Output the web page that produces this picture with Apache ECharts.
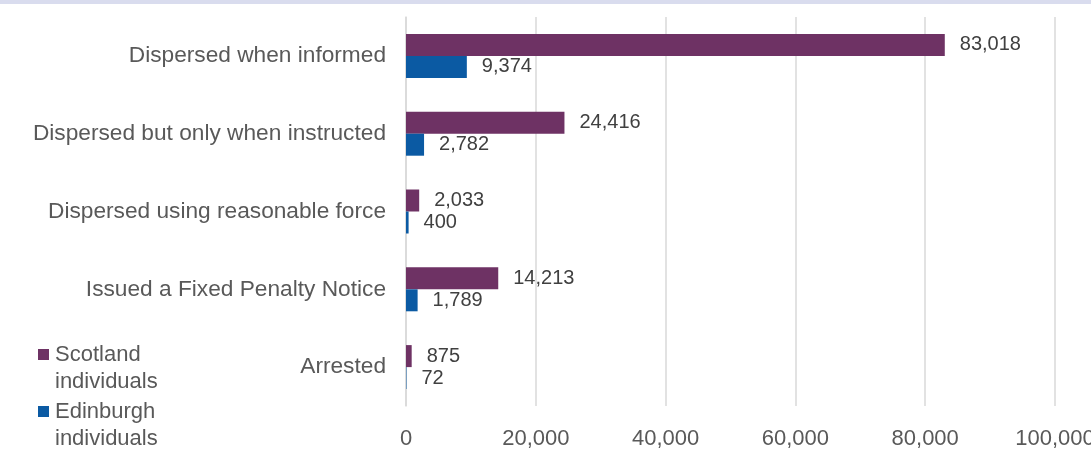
<!DOCTYPE html>
<html>
<head>
<meta charset="utf-8">
<script src="https://cdn.jsdelivr.net/npm/echarts@6/dist/echarts.min.js"></script>
<style>
  html, body { margin: 0; padding: 0; background: #ffffff; }
  #chart { width: 1091px; height: 450px; }
</style>
</head>
<body>
<div id="chart"></div>
<script>
// Outcomes of dispersal / enforcement actions
const categories = [
  'Dispersed when informed',
  'Dispersed but only when instructed',
  'Dispersed using reasonable force',
  'Issued a Fixed Penalty Notice',
  'Arrested'
];
const scotlandValues = [83018, 24416, 2033, 14213, 875];
const edinburghValues = [9374, 2782, 400, 1789, 72];
const seriesNames = ['Scotland individuals', 'Edinburgh individuals'];
const legendLabels = ['Scotland\nindividuals', 'Edinburgh\nindividuals'];

const FONT = '"Liberation Sans", Arial, sans-serif';
const fmt = v => v.toLocaleString('en-GB');

const chart = echarts.init(document.getElementById('chart'), null, { renderer: 'canvas' });

const labelStyle = {
  show: true,
  position: 'right',
  distance: 15,
  fontFamily: FONT,
  fontSize: 20,
  color: '#404040',
  formatter: p => fmt(p.value)
};

chart.setOption({
  backgroundColor: '#ffffff',
  animation: false,
  graphic: [{
    type: 'rect',
    left: 0,
    top: 0,
    shape: { width: 1091, height: 4 },
    style: { fill: '#d9dcee' },
    silent: true
  }],
  legend: {
    orient: 'vertical',
    left: 38,
    top: 314,
    height: 200,
    padding: 0,
    itemWidth: 11,
    itemHeight: 11,
    itemGap: -24,
    icon: 'rect',
    data: seriesNames,
    // a leading empty line keeps the first text line level with the colour key
    formatter: name => ' \n' + legendLabels[seriesNames.indexOf(name)],
    textStyle: {
      fontFamily: FONT,
      fontSize: 22,
      color: '#595959',
      lineHeight: 27,
      padding: [0, 0, 0, 1]
    }
  },
  grid: {
    left: 406,
    right: 36,
    top: 17,
    bottom: 44,
    containLabel: false,
    outerBoundsMode: 'none'
  },
  xAxis: {
    type: 'value',
    min: 0,
    max: 100000,
    interval: 20000,
    axisLine: { show: false },
    axisTick: { show: false },
    splitLine: { lineStyle: { color: '#d9d9d9', width: 1.5 } },
    axisLabel: {
      fontFamily: FONT,
      fontSize: 22,
      color: '#595959',
      margin: 22,
      formatter: v => fmt(v)
    }
  },
  yAxis: {
    type: 'category',
    data: categories,
    inverse: true,
    axisLine: { show: true, lineStyle: { color: '#d9d9d9', width: 1.5 } },
    axisTick: { show: false },
    axisLabel: {
      fontFamily: FONT,
      fontSize: 22.7,
      color: '#595959',
      margin: 20
    }
  },
  series: [
    {
      name: seriesNames[0],
      type: 'bar',
      data: scotlandValues,
      barWidth: 22,
      barGap: '0%',
      itemStyle: { color: '#6e3264' },
      label: labelStyle
    },
    {
      name: seriesNames[1],
      type: 'bar',
      data: edinburghValues,
      barWidth: 22,
      barGap: '0%',
      itemStyle: { color: '#0b5aa3' },
      label: labelStyle
    }
  ]
});
</script>
</body>
</html>
